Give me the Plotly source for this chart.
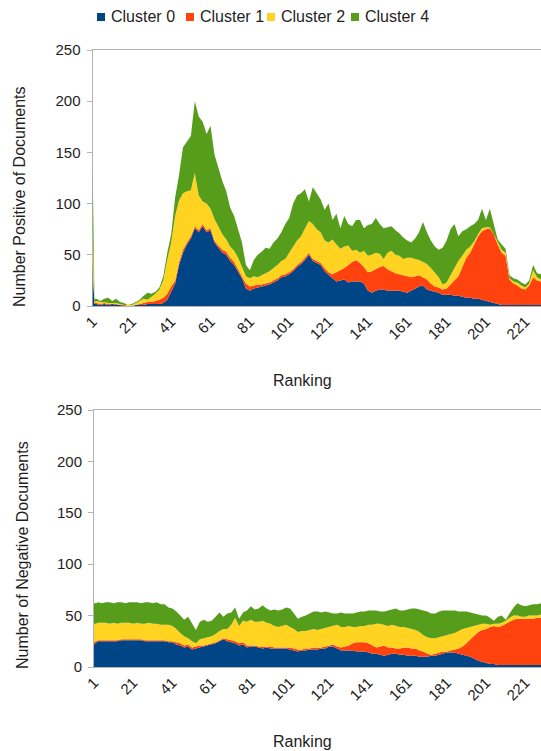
import plotly.graph_objects as go

W, H = 541, 751
FONT = "Liberation Sans"
TEXT = "#1e1e1e"
AXIS = "#b3b3b3"

names = ["Cluster 0", "Cluster 1", "Cluster 2", "Cluster 4"]
colors = ["#004586", "#ff420e", "#ffd320", "#579d1c"]

# ranking positions: ranks 1 and 2, then every second rank
ranks = [1, 2] + list(range(3, 230, 2))
tick_vals = list(range(1, 222, 20))
y_ticks = [0, 50, 100, 150, 200, 250]

# ---- positive documents per cluster ----
pos_c0 = [40, 2, 2, 1, 2, 1, 2, 1, 1, 0, 0,
          0, 1, 1, 1, 2, 2, 2, 2, 3, 6,
          14, 22, 40, 52, 60, 66, 76, 72, 78, 72,
          74, 62, 57, 52, 50, 44, 40, 33, 27, 17,
          15, 17, 18, 19, 20, 21, 23, 25, 28, 29,
          31, 34, 38, 41, 45, 50, 44, 42, 40, 34,
          30, 27, 24, 25, 26, 23, 24, 24, 24, 22,
          15, 13, 15, 16, 16, 15, 15, 15, 15, 14,
          13, 15, 17, 19, 20, 16, 15, 14, 13, 11,
          11, 11, 10, 10, 9, 8, 8, 7, 7, 6,
          5, 4, 3, 2, 1, 1, 1, 1, 1, 1,
          1, 1, 1, 1, 1]
pos_c1 = [2, 1, 1, 1, 1, 1, 0, 1, 0, 1, 0,
          0, 0, 1, 2, 2, 2, 3, 4, 5, 6,
          5, 3, 3, 3, 2, 2, 2, 2, 2, 2,
          2, 2, 2, 3, 3, 3, 3, 3, 3, 5,
          4, 3, 3, 2, 2, 2, 2, 2, 2, 2,
          2, 2, 2, 2, 2, 2, 2, 2, 2, 3,
          3, 4, 9, 10, 11, 17, 19, 21, 18, 16,
          18, 21, 21, 22, 23, 21, 19, 17, 16, 16,
          16, 13, 12, 11, 8, 10, 7, 5, 5, 5,
          6, 10, 14, 19, 29, 39, 44, 53, 61, 67,
          70, 72, 67, 58, 51, 48, 25, 21, 19, 16,
          15, 19, 27, 24, 23]
pos_c2 = [35, 1, 2, 2, 1, 1, 1, 1, 1, 0, 1,
          1, 2, 3, 4, 2, 5, 7, 10, 17, 33,
          43, 63, 60, 55, 50, 45, 52, 34, 22, 26,
          19, 21, 19, 15, 12, 11, 11, 11, 8, 7,
          8, 9, 7, 9, 10, 11, 12, 13, 14, 15,
          19, 22, 24, 25, 29, 31, 34, 31, 30, 27,
          29, 34, 27, 21, 21, 19, 11, 10, 10, 16,
          16, 16, 16, 13, 7, 16, 20, 18, 18, 16,
          18, 19, 17, 15, 15, 15, 15, 13, 10, 5,
          6, 9, 13, 15, 11, 8, 6, 3, 2, 3,
          2, 1, 0, 2, 3, 3, 1, 2, 3, 3,
          2, 2, 7, 3, 2]
pos_c4 = [68, 3, 2, 1, 3, 5, 2, 4, 2, 2, 0,
          1, 1, 1, 3, 7, 3, 2, 2, 4, 7,
          8, 18, 25, 45, 48, 53, 70, 77, 78, 68,
          81, 63, 57, 52, 47, 38, 34, 27, 24, 11,
          8, 16, 22, 23, 25, 22, 25, 26, 28, 34,
          34, 42, 44, 42, 38, 19, 36, 35, 32, 30,
          38, 19, 30, 20, 30, 21, 24, 29, 32, 22,
          30, 30, 34, 29, 30, 25, 24, 24, 22, 21,
          17, 15, 20, 27, 39, 31, 27, 26, 27, 36,
          41, 45, 43, 24, 24, 20, 20, 17, 14, 19,
          7, 18, 10, 3, 5, 4, 3, 3, 3, 3,
          3, 3, 5, 4, 5]

# ---- negative documents per cluster ----
neg_c0 = [22, 24, 25, 25, 25, 25, 25, 25, 26, 26, 26,
          26, 26, 26, 25, 25, 25, 25, 25, 25, 24,
          24, 22, 21, 19, 20, 17, 18, 19, 20, 21,
          22, 23, 25, 27, 25, 24, 23, 21, 22, 19,
          20, 20, 19, 18, 19, 18, 18, 18, 18, 18,
          17, 16, 15, 16, 16, 17, 17, 17, 18, 18,
          20, 20, 18, 16, 16, 16, 16, 15, 15, 15,
          14, 13, 13, 12, 11, 12, 13, 13, 12, 12,
          11, 11, 11, 10, 10, 10, 11, 11, 12, 13,
          14, 14, 14, 13, 12, 11, 10, 8, 6, 5,
          4, 3, 3, 2, 2, 2, 2, 2, 2, 2,
          2, 2, 2, 2, 2]
neg_c1 = [2, 1, 1, 1, 1, 1, 1, 1, 1, 1, 1,
          1, 1, 1, 1, 1, 1, 1, 1, 1, 1,
          1, 2, 2, 2, 2, 2, 2, 2, 1, 1,
          1, 1, 1, 1, 2, 2, 2, 2, 2, 2,
          1, 1, 1, 2, 1, 2, 1, 1, 1, 1,
          2, 2, 2, 1, 2, 1, 2, 2, 1, 2,
          1, 2, 2, 3, 4, 5, 7, 9, 9, 9,
          9, 8, 6, 8, 10, 7, 6, 5, 6, 7,
          8, 7, 7, 6, 5, 3, 1, 2, 2, 2,
          1, 2, 3, 5, 8, 12, 17, 23, 28, 31,
          33, 36, 37, 37, 38, 40, 42, 44, 45, 45,
          45, 45, 45, 46, 46]
neg_c2 = [18, 17, 17, 17, 17, 16, 17, 16, 16, 16, 16,
          15, 16, 15, 16, 17, 16, 16, 15, 15, 16,
          15, 13, 10, 9, 6, 6, 3, 6, 7, 7,
          7, 8, 9, 9, 10, 15, 23, 17, 21, 23,
          25, 23, 24, 25, 23, 22, 21, 20, 21, 22,
          20, 19, 17, 18, 17, 18, 18, 17, 18, 18,
          18, 18, 21, 20, 19, 19, 16, 15, 16, 16,
          18, 20, 23, 22, 20, 21, 22, 22, 21, 20,
          19, 19, 18, 18, 16, 16, 16, 15, 15, 15,
          16, 16, 16, 17, 17, 15, 12, 9, 7, 6,
          5, 2, 2, 3, 3, 3, 4, 4, 3, 2,
          2, 3, 3, 2, 3]
neg_c4 = [20, 20, 20, 19, 20, 21, 19, 21, 20, 19, 20,
          21, 20, 20, 21, 20, 20, 21, 20, 20, 17,
          17, 17, 17, 16, 21, 17, 13, 17, 18, 15,
          15, 17, 18, 12, 15, 12, 10, 7, 8, 11,
          13, 12, 13, 15, 14, 13, 16, 16, 16, 17,
          18, 15, 13, 14, 15, 16, 17, 18, 16, 16,
          14, 12, 11, 14, 13, 12, 13, 14, 14, 14,
          14, 14, 13, 12, 13, 15, 15, 17, 16, 16,
          18, 20, 21, 22, 24, 25, 24, 24, 25, 25,
          24, 23, 22, 19, 17, 16, 14, 12, 10, 8,
          8, 7, 3, 7, 7, 1, 4, 8, 12, 11,
          10, 10, 11, 11, 11]

positive = [pos_c0, pos_c1, pos_c2, pos_c4]
negative = [neg_c0, neg_c1, neg_c2, neg_c4]


def px_x(p):
    return p / W


def px_y(p):
    return 1 - p / H


fig = go.Figure()

for name, color, vals in zip(names, colors, positive):
    fig.add_trace(go.Scatter(
        x=ranks, y=vals, name=name, mode="lines", stackgroup="pos",
        line=dict(width=0, color=color), fillcolor=color,
        xaxis="x", yaxis="y", showlegend=False, hoverinfo="skip"))

for name, color, vals in zip(names, colors, negative):
    fig.add_trace(go.Scatter(
        x=ranks, y=vals, name=name, mode="lines", stackgroup="neg",
        line=dict(width=0, color=color), fillcolor=color,
        xaxis="x2", yaxis="y2", showlegend=False, hoverinfo="skip"))

tick_font = dict(family=FONT, size=15, color=TEXT)

xcommon = dict(range=[1, 229], tickmode="array", tickvals=tick_vals,
               ticktext=[str(v) for v in tick_vals], tickangle=-45,
               showline=True, linecolor=AXIS, linewidth=1, mirror=True,
               ticks="", showgrid=False, zeroline=False, tickfont=tick_font,
               automargin=False)
ycommon = dict(range=[0, 250], tickmode="array", tickvals=y_ticks,
               ticks="outside", ticklen=5, tickcolor=AXIS,
               showline=True, linecolor=AXIS, linewidth=1,
               showgrid=False, zeroline=False, tickfont=tick_font,
               ticklabelstandoff=3, automargin=False,
               layer="below traces")

fig.update_layout(
    template="none",
    width=W, height=H, autosize=False,
    margin=dict(l=0, r=0, t=0, b=0, pad=0, autoexpand=False),
    paper_bgcolor="white", plot_bgcolor="white",
    showlegend=False,
    xaxis=dict(xcommon, domain=[px_x(92.5), 1], anchor="y"),
    yaxis=dict(ycommon, domain=[px_y(306), px_y(50)], anchor="x"),
    xaxis2=dict(xcommon, domain=[px_x(94), 1], anchor="y2"),
    yaxis2=dict(ycommon, domain=[px_y(667), px_y(410)], anchor="x2"),
)

title_font = dict(family=FONT, size=16, color=TEXT)
annotations = [
    dict(text="Number Positive of Documents", x=px_x(20), y=px_y(197), textangle=-90),
    dict(text="Ranking", x=px_x(302), y=px_y(381)),
    dict(text="Number of Negative Documents", x=px_x(22), y=px_y(555), textangle=-90),
    dict(text="Ranking", x=px_x(302), y=px_y(741)),
]
for a in annotations:
    a.update(xref="paper", yref="paper", showarrow=False, font=title_font,
             xanchor="center", yanchor="middle")

# legend row: coloured square followed by the series name
legend_x = [97, 186, 267, 351]
shapes = []
for name, color, lx in zip(names, colors, legend_x):
    shapes.append(dict(type="rect", xref="paper", yref="paper",
                       x0=px_x(lx), x1=px_x(lx + 8), y0=px_y(21), y1=px_y(13),
                       fillcolor=color, line=dict(width=0)))
    annotations.append(dict(text=name, xref="paper", yref="paper",
                            x=px_x(lx + 12), y=px_y(16), xanchor="left",
                            yanchor="middle", showarrow=False, font=title_font))

fig.update_layout(annotations=annotations, shapes=shapes)

# pin the graph div to the top-left corner of the window
page_fix = (
    "var s=document.documentElement.style;s.margin='0';s.padding='0';s.overflow='hidden';"
    "var b=document.body.style;b.margin='0';b.padding='0';b.overflow='hidden';"
    "var g=document.getElementById('{plot_id}').style;"
    "g.position='fixed';g.left='0px';g.top='0px';"
)
fig.write_html("out.html", post_script=page_fix)
